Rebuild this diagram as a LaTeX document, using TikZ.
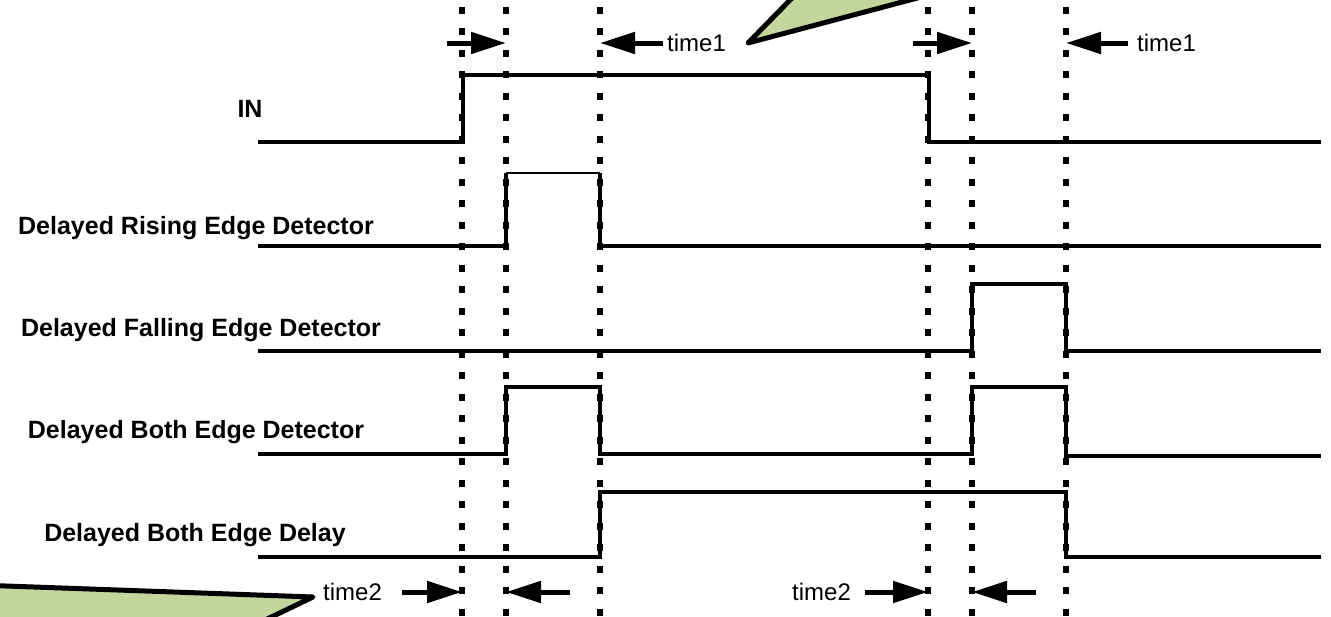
\documentclass[tikz,border=0pt]{standalone}
\usepackage{fontspec}
\setmainfont{Liberation Sans}
\usetikzlibrary{arrows.meta}
\definecolor{callout}{HTML}{C3D69B}
\begin{document}
\begin{tikzpicture}[x=1pt,y=-1pt,
  sig/.style={line width=4.5pt, line join=miter, line cap=butt},
  thinsig/.style={line width=2.5pt},
  gridline/.style={line width=5.5pt, dash pattern=on 7pt off 14.5pt},
  arr/.style={line width=5pt, -{Triangle[length=35pt,width=21pt]}},
  lbl/.style={font=\fontsize{25}{30}\selectfont\bfseries, anchor=base, inner sep=0pt},
  tlbl/.style={font=\fontsize{24}{28}\selectfont, anchor=base west, inner sep=0pt},
  bubble/.style={fill=callout, draw=black, line width=5pt, line join=round}]
\useasboundingbox (0,0) rectangle (1331,616);
\fill[white] (0,0) rectangle (1331,616);
% dotted time markers
\foreach \x in {462,506,600,928,972,1066}
  \draw[gridline] (\x,6.5) -- (\x,640);
% labels
\node[lbl] (lin) at (250,117) {IN};
\node[lbl] (lrise) at (196,234) {Delayed Rising Edge Detector};
\node[lbl] (lfall) at (201,336) {Delayed Falling Edge Detector};
\node[lbl] (lboth) at (196,438) {Delayed Both Edge Detector};
\node[lbl] (ldel) at (195,541) {Delayed Both Edge Delay};
% waveforms
\draw[sig] (258,142) -- (463,142) -- (463,75) -- (929,75) -- (929,142) -- (1321,142);
\draw[sig] (258,246) -- (506,246) -- (506,173);
\draw[thinsig] (506,173) -- (600,173);
\draw[sig] (600,173) -- (600,246) -- (1321,246);
\draw[sig] (258,351) -- (972,351) -- (972,284) -- (1066,284) -- (1066,351) -- (1321,351);
\draw[sig] (258,454) -- (506,454) -- (506,387) -- (600,387) -- (600,454) -- (972,454) -- (972,387) -- (1066,387) -- (1066,456) -- (1321,456);
\draw[sig] (258,557) -- (600,557) -- (600,492) -- (1066,492) -- (1066,557) -- (1321,557);
% top time annotations
\coordinate (a1s) at (447,43);  \coordinate (a1e) at (506,43);
\coordinate (a2s) at (663,43);  \coordinate (a2e) at (600,43);
\coordinate (a3s) at (913,43);  \coordinate (a3e) at (972,43);
\coordinate (a4s) at (1128,43); \coordinate (a4e) at (1066,43);
\draw[arr] (a1s) -- (a1e);
\draw[arr] (a2s) -- (a2e);
\draw[arr] (a3s) -- (a3e);
\draw[arr] (a4s) -- (a4e);
\node[tlbl] (t1a) at (667,51.5) {time1};
\node[tlbl] (t1b) at (1137,51.5) {time1};
% bottom time annotations
\node[tlbl] (t2a) at (323,600.5) {time2};
\node[tlbl] (t2b) at (792,600.5) {time2};
\coordinate (b1s) at (402,592);  \coordinate (b1e) at (462,592);
\coordinate (b2s) at (570,592);  \coordinate (b2e) at (506,592);
\coordinate (b3s) at (865,592);  \coordinate (b3e) at (928,592);
\coordinate (b4s) at (1036,592); \coordinate (b4e) at (972,592);
\draw[arr] (b1s) -- (b1e);
\draw[arr] (b2s) -- (b2e);
\draw[arr] (b3s) -- (b3e);
\draw[arr] (b4s) -- (b4e);
% callouts (bodies outside the picture)
\begin{scope}
\clip (0,0) rectangle (1331,616);
\coordinate (ctop) at (748,43);
\coordinate (cbot) at (313,597);
\draw[bubble] (ctop) -- (839,-50) -- (1098,-50) -- cycle;
\draw[bubble] (cbot) -- (-50,584) -- (-50,680) -- (140,680) -- cycle;
\end{scope}
\end{tikzpicture}
\end{document}
